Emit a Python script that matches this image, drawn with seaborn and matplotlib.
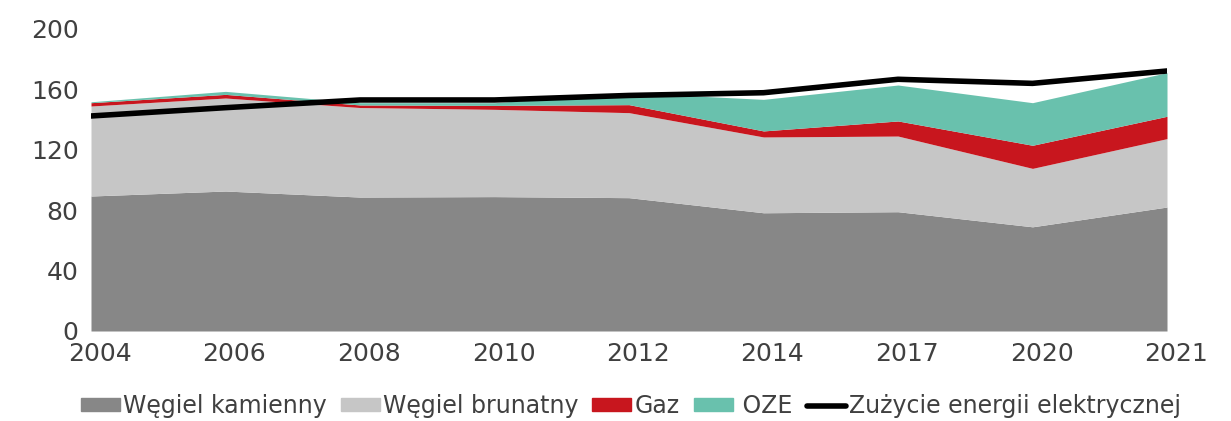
import matplotlib
matplotlib.use("Agg")
import matplotlib.pyplot as plt
import matplotlib.patches as mpatches
import matplotlib.transforms as mtransforms
from matplotlib.lines import Line2D
import seaborn as sns
import numpy as np

years = ["2004", "2006", "2008", "2010", "2012", "2014", "2017", "2020", "2021"]
wegiel_kamienny = [89.4, 92.7, 88.7, 89.0, 88.3, 78.3, 79.0, 69.0, 82.1]
wegiel_brunatny = [59.6, 61.6, 59.3, 57.8, 56.3, 50.2, 50.1, 38.7, 45.3]
gaz = [2.2, 2.4, 1.7, 2.6, 5.3, 4.0, 10.0, 15.3, 14.8]
oze = [0.6, 2.0, 1.5, 1.8, 7.9, 20.9, 23.8, 28.2, 28.9]
zuzycie = [142.4, 147.9, 153.0, 153.0, 156.0, 157.8, 166.7, 164.0, 172.2]

labels = ["Węgiel kamienny", "Węgiel brunatny", "Gaz", " OZE"]
colors = ["#878787", "#c6c6c6", "#c8161e", "#69c1ad"]

sns.set_theme(style="white")
plt.rcParams['font.family'] = ['DejaVu Sans']

fig = plt.figure(figsize=(12.31, 4.21), dpi=100)
ax = fig.add_axes([91 / 1231, 1 - 331 / 421, (1167 - 91) / 1231, (331 - 29) / 421])

x = np.arange(len(years))
ax.stackplot(x, wegiel_kamienny, wegiel_brunatny, gaz, oze, colors=colors, linewidth=0)
sns.lineplot(x=x, y=zuzycie, ax=ax, color="black", linewidth=4, solid_capstyle="round")

ax.set_xlim(0, len(years) - 1)
ax.set_ylim(0, 200)
ax.set_yticks(range(0, 201, 40))
ax.set_xticks(x)
ax.set_xticklabels(years)
ax.tick_params(axis="both", labelsize=18, colors="#404040", length=0)
ax.tick_params(axis="x", pad=8)
ax.tick_params(axis="y", pad=9)
# x labels sit a little right of the tick in the original
shift = mtransforms.ScaledTranslation(9 / 100, 0, fig.dpi_scale_trans)
for lbl in ax.get_xticklabels():
    lbl.set_transform(lbl.get_transform() + shift)
for s in ax.spines.values():
    s.set_visible(False)

handles = [mpatches.Patch(color=c, label=l) for c, l in zip(colors, labels)]
handles.append(Line2D([0], [0], color="black", linewidth=4, label="Zużycie energii elektrycznej"))
fig.legend(handles=handles, loc="center", bbox_to_anchor=(631 / 1231, 1 - 406 / 421),
           ncol=5, frameon=False, fontsize=17, labelcolor="#404040",
           handlelength=1.65, handleheight=0.45, handletextpad=0.12, columnspacing=0.6)

fig.savefig("out.png", dpi=100)
